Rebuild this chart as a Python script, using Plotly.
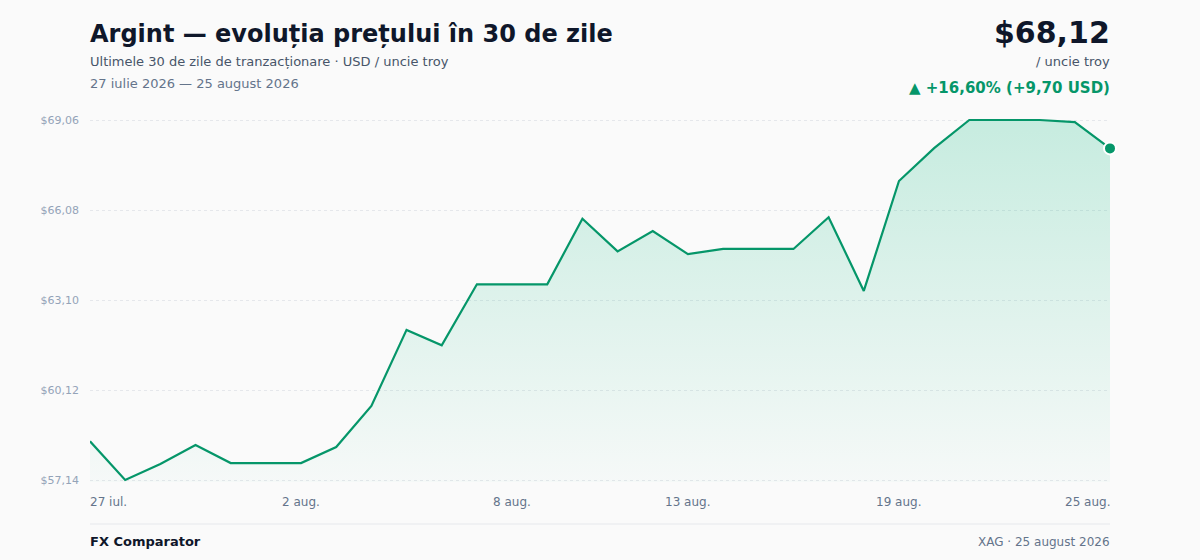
import plotly.graph_objects as go
import numpy as np
import pandas as pd

# ---- data ----
dates = pd.date_range("2026-07-27", "2026-08-25", freq="D").strftime("%Y-%m-%d").tolist()
prices = [58.42, 57.14, 57.67, 58.30, 57.70, 57.70, 57.70, 58.23, 59.59, 62.11,
          61.60, 63.62, 63.62, 63.62, 65.79, 64.71, 65.38, 64.62, 64.79, 64.79,
          64.79, 65.84, 63.40, 67.04, 68.13, 69.06, 69.06, 69.06, 68.99, 68.12]
tick_idx = [0, 6, 12, 17, 23, 29]
tick_text = ["27 iul.", "2 aug.", "8 aug.", "13 aug.", "19 aug.", "25 aug."]

title = "Argint — evoluția prețului în 30 de zile"
subtitle = "Ultimele 30 de zile de tranzacționare · USD / uncie troy"
date_line = "27 iulie 2026 — 25 august 2026"
price_text = "$68,12"
unit_text = "/ uncie troy"
change_text = "▲ +16,60% (+9,70 USD)"
footer_left = "FX Comparator"
footer_right = "XAG · 25 august 2026"

GREEN = "#059669"
FONT = "DejaVu Sans"
BG = "#fafafa"

ymin, ymax = min(prices), max(prices)
yticks = list(np.linspace(ymin, ymax, 5))
ytick_text = ["$" + f"{v:.2f}".replace(".", ",") for v in yticks]
pad = (ymax - ymin) * 2 / 360.0

M_T, M_B = 118, 78
H = 560
PLOT_H = H - M_T - M_B
PLOT_BOTTOM = H - M_B


def py(p):
    return (PLOT_BOTTOM - p) / PLOT_H


def xs(anchor):
    return -2 if anchor == "left" else (2 if anchor == "right" else 0)


fig = go.Figure()
fig.add_trace(go.Scatter(
    x=dates, y=prices, mode="lines",
    line=dict(color=GREEN, width=2.2),
    fill="tozeroy",
    fillgradient=dict(type="vertical", start=ymin, stop=ymax,
                      colorscale=[[0, "rgba(16,185,129,0.02)"], [1, "rgba(16,185,129,0.22)"]]),
    hoverinfo="skip", showlegend=False,
))
fig.add_trace(go.Scatter(
    x=[dates[-1]], y=[prices[-1]], mode="markers",
    marker=dict(size=12, color=GREEN, line=dict(color="white", width=2)),
    cliponaxis=False, hoverinfo="skip", showlegend=False,
))

ann = []
for i, t in zip(tick_idx, tick_text):
    anchor = "left" if i == 0 else ("right" if i == len(dates) - 1 else "center")
    ann.append(dict(x=dates[i], y=py(502), xref="x", yref="paper", text=t, showarrow=False,
                    xanchor=anchor, yanchor="middle", xshift=xs(anchor),
                    font=dict(family=FONT, size=12, color="#64748b")))


def head(x, ypx, text, anchor, size, color):
    return dict(x=x, y=py(ypx), xref="paper", yref="paper", text=text, showarrow=False,
                xanchor=anchor, yanchor="middle", xshift=xs(anchor),
                font=dict(family=FONT, size=size, color=color))


ann += [
    head(0, 34, f"<b>{title}</b>", "left", 24, "#0f172a"),
    head(0, 61.5, subtitle, "left", 13, "#475569"),
    head(0, 83.5, date_line, "left", 13, "#64748b"),
    head(1, 32.5, f"<b>{price_text}</b>", "right", 30, "#0f172a"),
    head(1, 61.5, unit_text, "right", 13, "#475569"),
    head(1, 87.5, f"<b>{change_text}</b>", "right", 15, GREEN),
    head(0, 541.5, f"<b>{footer_left}</b>", "left", 13, "#0f172a"),
    head(1, 541.5, footer_right, "right", 12, "#64748b"),
]

fig.update_layout(
    width=1200, height=560,
    margin=dict(l=90, r=90, t=M_T, b=M_B),
    paper_bgcolor=BG, plot_bgcolor=BG,
    separators=",.",
    font=dict(family=FONT),
    annotations=ann,
    shapes=[dict(type="line", xref="paper", yref="paper", x0=0, x1=1, y0=py(524), y1=py(524),
                 line=dict(color="#e5e7eb", width=1.2))],
    xaxis=dict(type="date", range=[dates[0], dates[-1]], showgrid=False, zeroline=False,
               showticklabels=False, showline=False, fixedrange=True),
    yaxis=dict(range=[ymin - pad, ymax + pad], tickvals=yticks, ticktext=ytick_text,
               showgrid=True, gridcolor="#e5e7eb", griddash="dot", gridwidth=1,
               zeroline=False, showline=False, ticks="", ticklabelstandoff=10,
               tickfont=dict(family=FONT, size=11, color="#94a3b8"), fixedrange=True),
)

fig.write_html("out.html", config={"displayModeBar": False},
               post_script="document.body.style.margin='0';document.body.style.background='#fafafa';")
